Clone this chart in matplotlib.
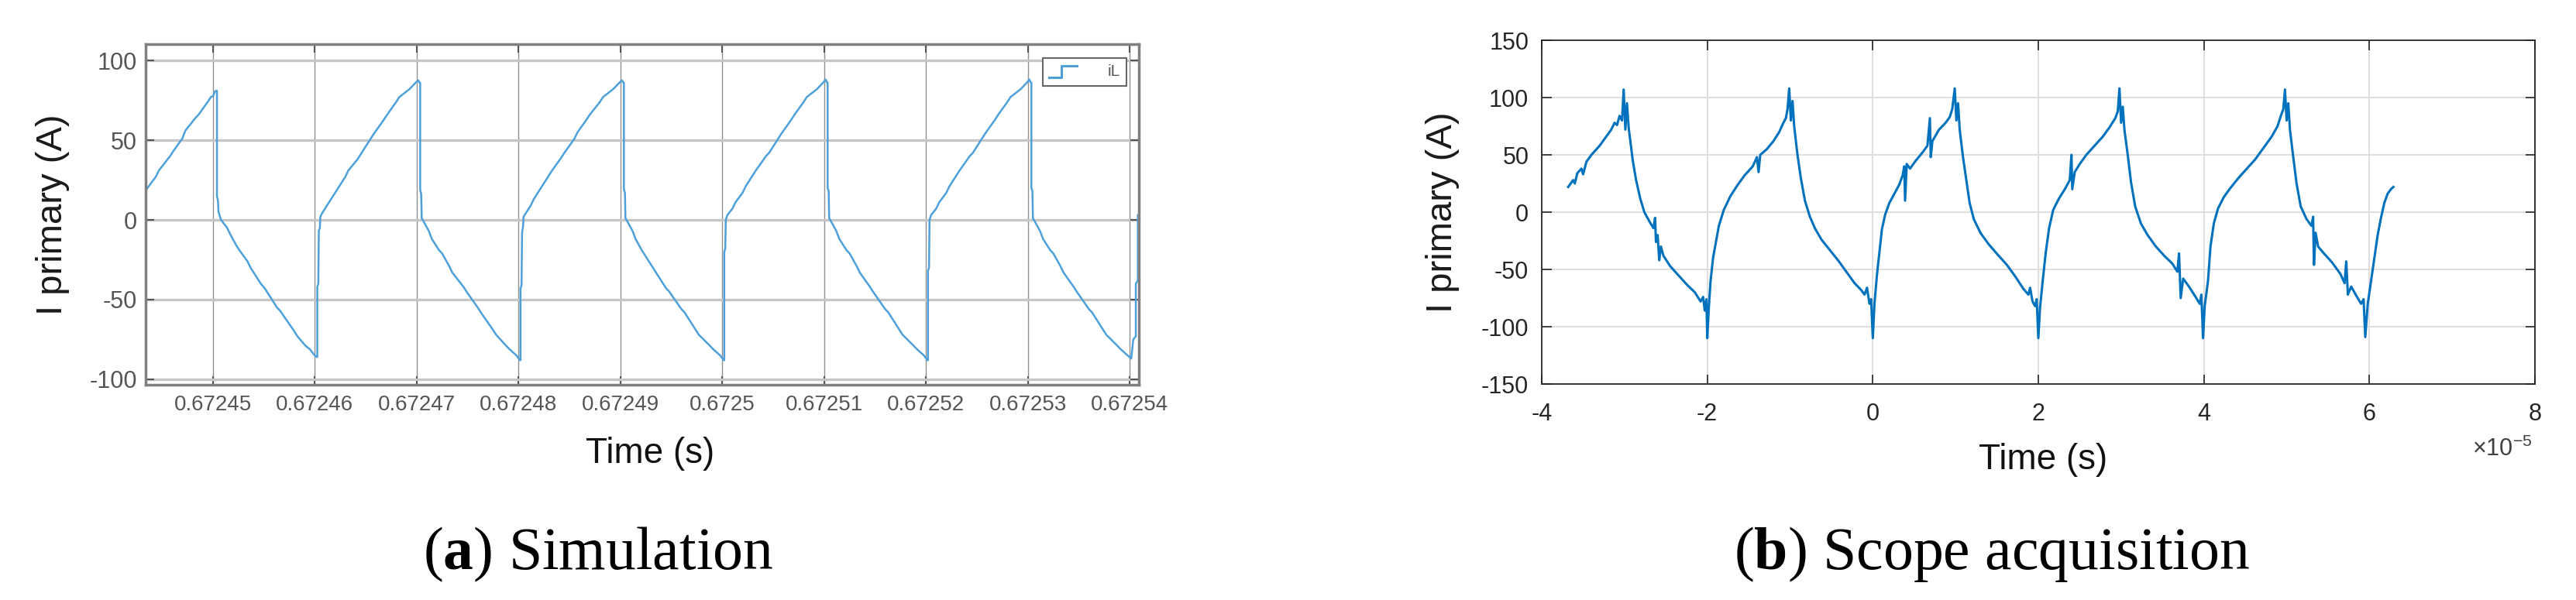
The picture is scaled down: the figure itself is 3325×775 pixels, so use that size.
import numpy as np
import matplotlib
matplotlib.use('Agg')
import matplotlib.pyplot as plt
from matplotlib.legend_handler import HandlerBase
from matplotlib.lines import Line2D

plt.rcParams['font.family'] = ['Liberation Sans', 'DejaVu Sans']
plt.rcParams['axes.unicode_minus'] = False
plt.rcParams['mathtext.fontset'] = 'custom'
plt.rcParams['mathtext.rm'] = 'Liberation Sans'
plt.rcParams['mathtext.bf'] = 'Liberation Serif:bold'

# (a) simulation: time in microseconds after 0.67244 s, current in A
sim_t_us = [3.4, 4.4, 4.7, 5.8, 6.1, 7.0, 7.3, 8.3, 8.6, 9.6, 9.8, 10.0, 10.2, 10.35,
            10.4, 10.4, 10.5, 10.55, 10.7, 10.8,
            11.4, 11.7, 12.3, 12.6, 13.4, 13.7, 14.7, 15.1, 16.3, 16.6, 17.9, 18.3, 19.1, 19.5, 20.0, 20.2,
            20.25, 20.25, 20.35, 20.4, 20.5, 20.55, 20.7,
            21.2, 21.5, 22.0, 22.4, 23.0, 23.3, 24.2, 24.5, 25.5, 25.8, 26.7, 27.0, 28.0, 28.3, 29.3, 29.6, 29.9, 30.15, 30.3,
            30.35, 30.35, 30.45, 30.5, 30.6,
            31.2, 31.5, 32.2, 32.5, 33.2, 33.5, 34.6, 34.9, 36.0, 36.3, 37.5, 37.8, 38.8, 39.1, 39.8, 40.15,
            40.2, 40.2, 40.3, 40.35, 40.45, 40.5, 40.7,
            41.2, 41.5, 42.0, 42.4, 43.0, 43.3, 44.2, 44.5, 45.5, 45.8, 46.7, 47.0, 48.0, 48.3, 49.3, 49.6, 49.9, 50.15, 50.3,
            50.35, 50.35, 50.45, 50.5, 50.6,
            51.2, 51.5, 52.1, 52.4, 53.2, 53.5, 54.5, 54.8, 56.0, 56.3, 57.4, 57.7, 58.8, 59.1, 59.8, 60.15,
            60.2, 60.2, 60.3, 60.35, 60.5,
            61.0, 61.3, 62.0, 62.3, 63.0, 63.3, 64.3, 64.6, 65.5, 65.8, 66.8, 67.1, 68.0, 68.3, 69.3, 69.6, 69.9, 70.15, 70.3,
            70.35, 70.35, 70.45, 70.5, 70.6,
            71.2, 71.5, 72.2, 72.5, 73.2, 73.5, 74.5, 74.8, 76.0, 76.3, 77.4, 77.7, 78.8, 79.1, 79.8, 80.15,
            80.2, 80.2, 80.3, 80.35, 80.5,
            81.0, 81.3, 82.0, 82.3, 83.0, 83.3, 84.3, 84.6, 85.5, 85.8, 86.8, 87.1, 88.0, 88.3, 89.3, 89.6, 89.9, 90.15, 90.3,
            90.35, 90.35, 90.45, 90.5, 90.6,
            91.2, 91.5, 92.2, 92.5, 93.2, 93.5, 94.5, 94.8, 96.0, 96.3, 97.4, 97.7, 98.8, 99.1, 99.8, 100.15,
            100.35, 100.6, 100.6, 100.8, 100.8]
sim_i = [18.5, 27, 31, 40, 43, 51, 56, 64, 66, 75, 77, 77.5, 80.5, 81,
         81, 15, 12, 5, 2, 0,
         -5, -9, -16, -19, -26, -30, -40, -43, -55, -57, -69, -73, -79, -81, -85, -86,
         -86, -42, -40, -7, -5, 2, 4,
         9, 12, 17, 21, 27, 31, 38, 41, 51, 54, 62, 65, 74, 77, 82, 84, 86, 87.5, 86,
         86, 19, 16, 1, 0,
         -7, -12, -19, -21, -29, -33, -42, -45, -55, -58, -69, -72, -79, -81, -85, -88,
         -88, -43, -41, -8, -4, 2, 4,
         9, 13, 18, 22, 28, 31, 39, 42, 51, 55, 63, 66, 74, 77, 82, 84, 86, 87.5, 86,
         86, 19, 17, 1, 0,
         -7, -12, -19, -22, -30, -33, -43, -45, -56, -58, -69, -72, -79, -81, -85, -88,
         -88, -20, -18, 0, 3,
         7, 11, 17, 21, 28, 31, 40, 42, 51, 54, 63, 66, 74, 77, 82, 84, 86, 88, 86,
         86, 20, 18, 1, 0,
         -7, -12, -19, -21, -29, -33, -42, -45, -56, -58, -69, -72, -79, -81, -85, -88,
         -88, -32, -30, 0, 3,
         7, 11, 17, 21, 28, 31, 40, 42, 51, 54, 63, 66, 74, 77, 82, 84, 86, 88, 86,
         86, 20, 18, 1, 0,
         -7, -12, -19, -21, -29, -33, -42, -45, -56, -58, -69, -72, -79, -81, -85, -87,
         -75, -73, -40, -38, 3]
sim_xticks = [0.67245, 0.67246, 0.67247, 0.67248, 0.67249, 0.67250, 0.67251, 0.67252, 0.67253, 0.67254]
sim_xticklabels = ['0.67245', '0.67246', '0.67247', '0.67248', '0.67249', '0.6725',
                   '0.67251', '0.67252', '0.67253', '0.67254']
sim_yticks = [100, 50, 0, -50, -100]
sim_yticklabels = ['100', '50', '0', '-50', '-100']

# (b) scope: time in units of 1e-5 s, current in A
scope_t = [-3.68, -3.62, -3.60, -3.57, -3.52, -3.50, -3.46, -3.40, -3.30, -3.22, -3.16, -3.12, -3.09, -3.06,
           -3.03, -3.01, -2.99, -2.97, -2.95, -2.90, -2.86, -2.81, -2.76, -2.70, -2.65, -2.63, -2.62, -2.60,
           -2.58, -2.56, -2.53, -2.45, -2.35, -2.25, -2.15, -2.08, -2.05, -2.03, -2.01, -2.00, -1.98, -1.96,
           -1.93, -1.90, -1.86, -1.80, -1.72, -1.64, -1.55, -1.45, -1.40, -1.38, -1.36, -1.28, -1.20, -1.13,
           -1.08, -1.05, -1.03, -1.01, -0.99, -0.97, -0.95, -0.91, -0.87, -0.82, -0.76, -0.70, -0.62, -0.52,
           -0.42, -0.32, -0.22, -0.14, -0.10, -0.07, -0.04, -0.02, 0.00, 0.02, 0.05, 0.08, 0.11, 0.15,
           0.20, 0.26, 0.32, 0.36, 0.38, 0.39, 0.41, 0.45, 0.52, 0.60, 0.66, 0.69, 0.70, 0.72,
           0.80, 0.88, 0.93, 0.96, 0.99, 1.01, 1.03, 1.05, 1.09, 1.13, 1.17, 1.22, 1.30, 1.40,
           1.52, 1.62, 1.72, 1.82, 1.88, 1.90, 1.93, 1.96, 1.98, 2.00, 2.02, 2.05, 2.09, 2.13,
           2.18, 2.25, 2.32, 2.38, 2.40, 2.41, 2.44, 2.50, 2.58, 2.68, 2.78, 2.86, 2.93, 2.96,
           2.98, 3.00, 3.02, 3.04, 3.08, 3.12, 3.17, 3.24, 3.32, 3.42, 3.52, 3.62, 3.68, 3.70,
           3.72, 3.75, 3.82, 3.90, 3.95, 3.97, 3.99, 4.01, 4.05, 4.08, 4.12, 4.17, 4.24, 4.32,
           4.42, 4.52, 4.62, 4.72, 4.82, 4.89, 4.93, 4.96, 4.98, 5.00, 5.02, 5.04, 5.08, 5.12,
           5.17, 5.24, 5.30, 5.32, 5.33, 5.35, 5.38, 5.45, 5.55, 5.65, 5.70, 5.72, 5.74, 5.78,
           5.85, 5.90, 5.93, 5.95, 5.98, 6.02, 6.06, 6.10, 6.14, 6.18, 6.22, 6.26, 6.29]
scope_i = [22, 28, 25, 34, 38, 33, 44, 50, 58, 66, 72, 78, 76, 84,
           80, 107, 72, 95, 74, 45, 28, 12, 0, -8, -14, -5, -26, -20,
           -42, -30, -38, -47, -55, -63, -70, -78, -74, -86, -76, -110, -82, -60,
           -40, -28, -12, 2, 14, 23, 32, 40, 48, 35, 50, 55, 62, 70,
           78, 82, 90, 108, 80, 97, 75, 50, 30, 10, -4, -14, -24, -33,
           -42, -52, -62, -68, -72, -66, -80, -76, -110, -80, -55, -35, -15, -2,
           8, 16, 24, 32, 40, 10, 42, 38, 45, 52, 58, 82, 48, 62,
           72, 78, 83, 90, 108, 80, 95, 72, 48, 28, 8, -6, -18, -28,
           -38, -46, -56, -67, -72, -66, -78, -82, -76, -110, -84, -62, -35, -14,
           2, 12, 20, 28, 50, 20, 35, 42, 50, 58, 66, 74, 82, 88,
           108, 78, 92, 72, 50, 26, 5, -10, -20, -30, -38, -45, -52, -36,
           -75, -58, -65, -74, -80, -72, -110, -82, -60, -30, -10, 3, 13, 21,
           30, 38, 46, 56, 66, 75, 84, 90, 107, 80, 95, 72, 48, 25,
           5, -6, -12, -4, -46, -18, -30, -36, -44, -54, -62, -43, -72, -65,
           -74, -80, -76, -109, -80, -60, -40, -20, -5, 8, 16, 20, 22]
scope_xticks = [-4, -2, 0, 2, 4, 6, 8]
scope_yticks = [-150, -100, -50, 0, 50, 100, 150]


class StepHandler(HandlerBase):
    # little step icon like the Simulink scope legend
    def create_artists(self, legend, orig_handle, xdescent, ydescent, width, height, fontsize, trans):
        x = np.array([0, 0.45, 0.45, 1.0]) * width - xdescent
        y = np.array([-0.1, -0.1, 0.95, 0.95]) * height - ydescent
        ln = Line2D(x, y, color=orig_handle.get_color(), lw=orig_handle.get_linewidth())
        ln.set_transform(trans)
        return [ln]


fig = plt.figure(figsize=(33.25, 7.75), dpi=100)

# ---- (a) Simulation ----
ax1 = fig.add_axes([188 / 3325, 1 - 497 / 775, 1282 / 3325, 440 / 775])
sim_color = '#4da0d9'
ax1.plot(0.67244 + np.array(sim_t_us) * 1e-6, sim_i, color=sim_color, lw=1.8)
ax1.set_xlim(0.6724434, 0.6725409)
ax1.set_ylim(-103.4, 110.2)
ax1.set_xticks(sim_xticks, sim_xticklabels)
ax1.set_yticks(sim_yticks, sim_yticklabels)
ax1.tick_params(direction='in', top=True, right=True, length=8, width=1.5,
                color='#555555', labelcolor='#555555')
ax1.tick_params(axis='x', labelsize=20, pad=9)
ax1.tick_params(axis='y', labelsize=22, pad=8)
ax1.grid(axis='x', color='#8f8f8f', lw=1.0)
ax1.grid(axis='y', color='#c6c6c6', lw=2.4)
for s in ax1.spines.values():
    s.set_color('#7f7f7f')
    s.set_linewidth(2.5)
ax1.set_ylabel('I primary (A)', fontsize=34, color='#1a1a1a', va='center')
ax1.yaxis.set_label_coords(-0.0936, 0.5)
ax1.set_xlabel('Time (s)', fontsize=33, color='#111111', va='baseline')
ax1.xaxis.set_label_coords(0.508, -0.2295)

h = Line2D([], [], color=sim_color, lw=2.2)
leg = ax1.legend([h], ['iL'], handler_map={Line2D: StepHandler()}, loc='upper right',
                 bbox_to_anchor=(0.9875, 0.959), borderaxespad=0, fontsize=15,
                 labelcolor='#555555', fancybox=False, edgecolor='#666666', framealpha=1,
                 handlelength=1.7, handletextpad=1.9, borderpad=0.4)
leg.get_frame().set_linewidth(1.5)

# ---- (b) Scope acquisition ----
ax2 = fig.add_axes([1990 / 3325, 1 - 496 / 775, 1282 / 3325, 444 / 775])
ax2.plot(scope_t, scope_i, color='#0072BD', lw=2.2)
ax2.set_xlim(-4, 8)
ax2.set_ylim(-150, 150)
ax2.set_xticks(scope_xticks, [str(v) for v in scope_xticks])
ax2.set_yticks(scope_yticks, [str(v) for v in scope_yticks])
ax2.tick_params(direction='in', top=True, right=True, length=9, width=1.2,
                color='#262626', labelcolor='#262626', labelsize=22)
ax2.tick_params(axis='x', pad=17)
ax2.tick_params(axis='y', pad=12)
ax2.grid(color='#dcdcdc', lw=1.3)
for s in ax2.spines.values():
    s.set_color('#262626')
    s.set_linewidth(1.3)
ax2.set_ylabel('I primary (A)', fontsize=34, color='#1a1a1a', va='center')
ax2.yaxis.set_label_coords(-0.0998, 0.5)
ax2.set_xlabel('Time (s)', fontsize=33, color='#111111', va='baseline')
ax2.xaxis.set_label_coords(0.5047, -0.2477)
ax2.text(0.997, -0.189, r'$\times\mathdefault{10^{-5}}$', transform=ax2.transAxes,
         ha='right', va='center', fontsize=22, color='#404040')

# sub-captions
fig.text(772 / 3325, 1 - 735 / 775, r'($\mathbf{a}$) Simulation', family='Liberation Serif',
         fontsize=56, ha='center', va='baseline')
fig.text(2571 / 3325, 1 - 735 / 775, r'($\mathbf{b}$) Scope acquisition', family='Liberation Serif',
         fontsize=56, ha='center', va='baseline')

fig.savefig('out.png', dpi=100)
